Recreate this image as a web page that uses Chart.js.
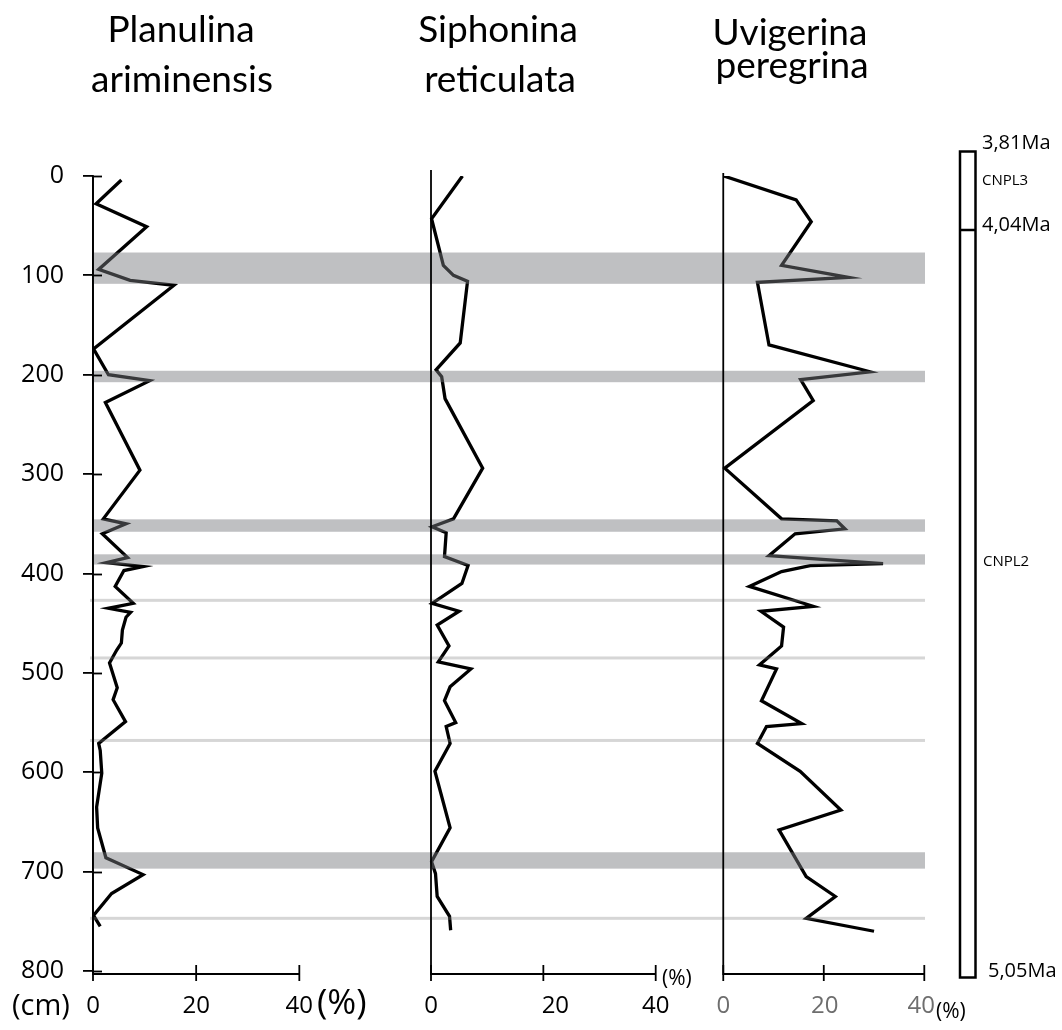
<!DOCTYPE html>
<html><head><meta charset="utf-8">
<script src="https://cdn.jsdelivr.net/npm/chart.js@4.4.1/dist/chart.umd.min.js"></script>
<style>html,body{margin:0;padding:0;background:#fff;overflow:hidden}canvas{display:block}</style>
</head><body>
<canvas id="c" width="1062" height="1030"></canvas>
<script>
// ---- data ----
const depthTicks = [0, 100, 200, 300, 400, 500, 600, 700, 800];
const pctTicks = [0, 20, 40];

const planulinaDepth = [4, 28, 51, 94, 105, 110, 174, 200, 206, 228, 296, 345, 350, 360, 384, 389, 393, 397, 413, 430, 435, 439, 444, 457, 470, 477, 490, 515, 527, 549, 571, 578, 601, 635, 656, 686, 703, 722, 744, 755];
const planulinaPct   = [5.5, 0.6, 10.4, 1.1, 7.2, 15.7, 0.1, 3.0, 11.0, 2.4, 9.1, 2.0, 6.4, 1.8, 6.7, 2.6, 9.7, 6.0, 4.3, 7.8, 3.0, 7.3, 6.4, 5.7, 5.5, 4.6, 3.2, 4.7, 3.9, 6.3, 1.1, 1.4, 1.7, 0.7, 0.9, 2.5, 9.7, 3.6, 0.1, 1.4];

const siphoninaDepth = [0, 43, 90, 100, 106, 168, 195, 202, 224, 294, 345, 353, 359, 383, 392, 410, 430, 438, 452, 473, 489, 496, 514, 528, 550, 554, 571, 599, 656, 690, 702, 725, 745, 759];
const siphoninaPct   = [5.6, 0.1, 2.2, 4.0, 6.5, 5.2, 0.9, 1.9, 2.5, 9.2, 4.0, 0.2, 2.7, 2.4, 6.6, 5.5, 0.2, 5.0, 1.1, 3.2, 1.3, 7.1, 3.4, 2.4, 4.4, 2.7, 3.4, 0.7, 3.4, 0.1, 0.8, 1.1, 3.3, 3.5];

const uvigerinaDepth = [0, 24, 46, 90, 102, 107, 170, 197, 205, 226, 294, 345, 347, 355, 360, 382, 390, 392, 398, 413, 433, 438, 454, 473, 492, 496, 528, 551, 554, 571, 599, 638, 658, 705, 725, 747, 760];
const uvigerinaPct   = [0.1, 14.5, 17.5, 11.6, 24.9, 6.8, 9.1, 29.2, 15.4, 17.9, 0.3, 11.6, 22.6, 24.2, 14.3, 9.1, 31.8, 17.3, 11.6, 5.2, 17.9, 7.5, 12.0, 11.6, 7.2, 10.6, 7.6, 15.6, 8.6, 6.8, 15.3, 23.4, 11.1, 16.5, 22.3, 16.5, 30.0];

const bandTop    = [77, 196, 345.5, 380.7, 680.5];
const bandBottom = [108.5, 207.5, 358, 391, 697];
const thinLineDepth = [427, 485, 568, 747];

const titleLines = [['Planulina', 'ariminensis'], ['Siphonina', 'reticulata'], ['Uvigerina', 'peregrina']];
const ageLabels  = ['3,81Ma', '4,04Ma', '5,05Ma'];
const zoneLabels = ['CNPL3', 'CNPL2'];
const depthUnit = '(cm)';
const pctUnit = '(%)';

// ---- helpers ----
function pts(d, v) { return d.map((dd, i) => ({ x: v[i], y: dd })); }

const NUM = '"Open Sans"';
const TTL = 'Lato';

const decor = {
  id: 'decor',
  afterDatasetsDraw(chart) {
    const { ctx, chartArea: a, scales: { y } } = chart;
    ctx.save();
    ctx.fillStyle = 'rgba(120,121,125,0.47)';
    bandTop.forEach((t, i) => {
      const y0 = y.getPixelForValue(t), y1 = y.getPixelForValue(bandBottom[i]);
      ctx.fillRect(a.left, y0, a.right - a.left, y1 - y0);
    });
    ctx.fillStyle = 'rgba(128,128,128,0.32)';
    thinLineDepth.forEach(d => {
      const p = y.getPixelForValue(d);
      ctx.fillRect(a.left - 3, p - 1.5, a.right - a.left + 3, 3);
    });
    ctx.restore();
  },
  afterDraw(chart) {
    const { ctx, scales } = chart;
    const y = scales.y;
    const axisY = 974;
    ctx.save();
    ctx.strokeStyle = '#000';
    ctx.lineWidth = 1.8;
    // y inner ticks
    const x0 = scales.x1.getPixelForValue(0);
    depthTicks.forEach(d => {
      const p = Math.round(y.getPixelForValue(d)) + 0.5;
      ctx.beginPath(); ctx.moveTo(x0, p); ctx.lineTo(x0 + 9, p); ctx.stroke();
    });
    const panels = [
      { sc: scales.x1, top: 176, col: '#000', shift: [0, 0, 0] },
      { sc: scales.x2, top: 170, col: '#000', shift: [0, 12, 0] },
      { sc: scales.x3, top: 173, col: '#6e6e6e', shift: [0, 1, -3] }
    ];
    panels.forEach(pn => {
      const px0 = pn.sc.getPixelForValue(0);
      const px40 = pn.sc.getPixelForValue(40);
      ctx.strokeStyle = '#000';
      ctx.beginPath(); ctx.moveTo(px0, pn.top); ctx.lineTo(px0, axisY + 1); ctx.stroke();
      ctx.beginPath(); ctx.moveTo(px0, axisY); ctx.lineTo(px40, axisY); ctx.stroke();
      pctTicks.forEach((t, i) => {
        const px = pn.sc.getPixelForValue(t);
        ctx.beginPath(); ctx.moveTo(px, axisY - 9); ctx.lineTo(px, axisY + 7); ctx.stroke();
        ctx.fillStyle = pn.col;
        ctx.font = '24px ' + NUM;
        ctx.textAlign = 'center'; ctx.textBaseline = 'middle';
        ctx.fillText(String(t), px + pn.shift[i], 1006);
      });
    });
    // units
    ctx.fillStyle = '#000';
    ctx.textAlign = 'left'; ctx.textBaseline = 'middle';
    ctx.font = '29px ' + NUM; ctx.fillText(depthUnit, 12, 1007);
    ctx.font = '35px ' + NUM; ctx.fillText(pctUnit, 317, 1004);
    ctx.font = '21px ' + NUM; ctx.fillText(pctUnit, 662, 979);
    ctx.font = '21px ' + NUM; ctx.fillText(pctUnit, 936, 1012);

    // titles
    ctx.textAlign = 'center'; ctx.textBaseline = 'alphabetic';
    ctx.font = '37px ' + TTL;
    ctx.fillText(titleLines[0][0], 181, 42);
    ctx.fillText(titleLines[0][1], 182, 92);
    ctx.fillText(titleLines[1][0], 498, 42);
    ctx.fillText(titleLines[1][1], 500, 92);
    ctx.fillText(titleLines[2][0], 790, 45);
    ctx.fillText(titleLines[2][1], 792, 78);

    // age column
    ctx.lineWidth = 2.5;
    ctx.strokeRect(960, 151.5, 15.5, 826);
    ctx.beginPath(); ctx.moveTo(960, 230); ctx.lineTo(975.5, 230); ctx.stroke();
    ctx.textAlign = 'left'; ctx.textBaseline = 'middle';
    ctx.font = '20px ' + NUM;
    ctx.fillText(ageLabels[0], 982, 143);
    ctx.fillText(ageLabels[1], 982, 225);
    ctx.fillText(ageLabels[2], 988, 971);
    ctx.font = '15px ' + NUM;
    ctx.fillText(zoneLabels[0], 982, 181);
    ctx.fillText(zoneLabels[1], 983, 562);
    ctx.restore();
  }
};

function lineDs(label, d, v, axis) {
  return {
    label, data: pts(d, v), xAxisID: axis, yAxisID: 'y',
    borderColor: '#000', borderWidth: 3.3, pointRadius: 0, fill: false,
    tension: 0, borderJoinStyle: 'miter', borderCapStyle: 'butt'
  };
}

function make() {
  new Chart(document.getElementById('c'), {
    type: 'line',
    data: {
      datasets: [
        lineDs('Planulina ariminensis', planulinaDepth, planulinaPct, 'x1'),
        lineDs('Siphonina reticulata', siphoninaDepth, siphoninaPct, 'x2'),
        lineDs('Uvigerina peregrina', uvigerinaDepth, uvigerinaPct, 'x3')
      ]
    },
    options: {
      responsive: false, animation: false, indexAxis: 'y',
      devicePixelRatio: 1,
      layout: { padding: { left: 0, top: 176, right: 137, bottom: 59 } },
      plugins: { legend: { display: false }, tooltip: { enabled: false }, title: { display: false } },
      scales: {
        y: {
          type: 'linear', position: 'left', reverse: true, min: 0, max: 800,
          afterFit(s) { s.width = 93; },
          afterBuildTicks(s) { s.ticks = depthTicks.map(v => ({ value: v })); },
          ticks: { color: '#000', font: { family: 'Open Sans', size: 25 }, padding: 19 },
          grid: { drawOnChartArea: false, drawTicks: true, tickLength: 10, color: '#000', lineWidth: 1.8 },
          border: { display: true, color: '#000', width: 1.8 }
        },
        x1: { type: 'linear', display: false, min: 0, max: 161.3 },
        x2: { type: 'linear', display: false, min: -60.17, max: 87.94 },
        x3: { type: 'linear', display: false, min: -125.4, max: 40.14 }
      }
    },
    plugins: [decor]
  });
}
Promise.all([
  document.fonts.load('24px "Open Sans"'),
  document.fonts.load('37px Lato')
]).then(make, make);
</script>
</body></html>
